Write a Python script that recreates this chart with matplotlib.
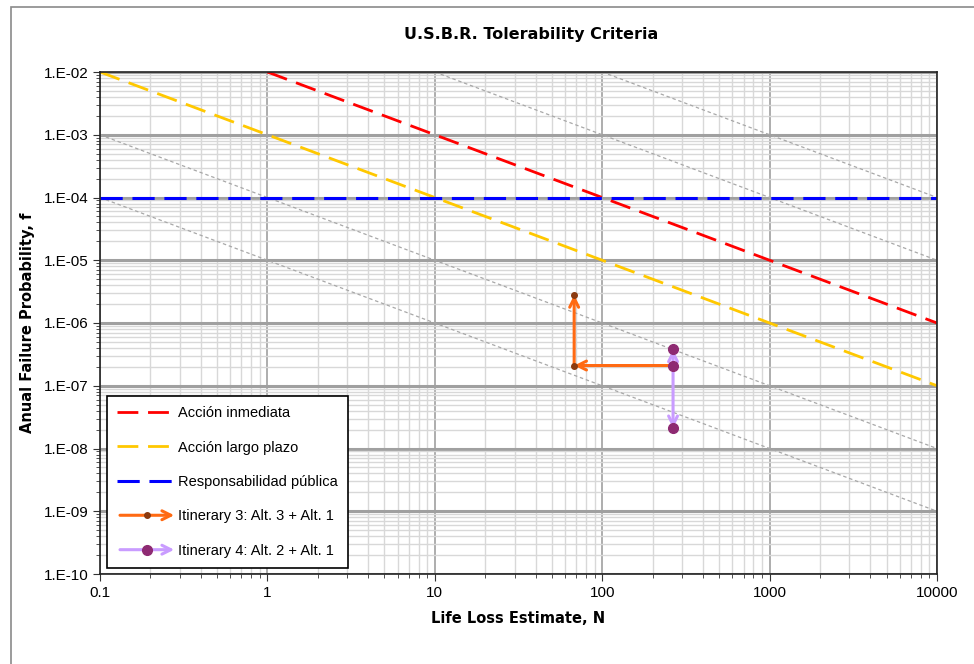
import numpy as np
import matplotlib
matplotlib.use('Agg')
import matplotlib.pyplot as plt
from matplotlib.lines import Line2D
from matplotlib.patches import FancyArrowPatch, Rectangle
from matplotlib.legend_handler import HandlerBase
from matplotlib.ticker import FuncFormatter, LogLocator, NullFormatter

plt.rcParams['font.family'] = ['Liberation Sans', 'DejaVu Sans']
plt.rcParams['lines.scale_dashes'] = False

# tolerability criteria lines (N, f)
red_N = [1, 10000]
red_f = [1e-2, 1e-6]
yellow_N = [0.1, 10000]
yellow_f = [1e-2, 1e-7]
blue_N = [0.1, 10000]
blue_f = [1e-4, 1e-4]

# iso-risk reference lines (N*f = const)
iso_N = [[10, 10000], [100, 10000], [0.1, 10000], [0.1, 10000]]
iso_f = [[1e-2, 1e-5], [1e-2, 1e-4], [1e-3, 1e-8], [1e-4, 1e-9]]

# itineraries
it3_N = [265, 68, 68]
it3_f = [2.1e-7, 2.1e-7, 2.8e-6]
it4_N = [265, 265, 265]
it4_f = [3.8e-7, 2.1e-7, 2.1e-8]

xticks = [0.1, 1, 10, 100, 1000, 10000]
xtick_labels = ['0.1', '1', '10', '100', '1000', '10000']

orange = '#FF6A13'
orange_mk = '#8B3A0F'
lilac = '#C99CFF'
purple_mk = '#8E2A72'

fig = plt.figure(figsize=(9.74, 6.64), dpi=100)
ax = fig.add_axes([100/974, 1-574/664, 837/974, 502/664])

ax.set_xscale('log')
ax.set_yscale('log')
ax.set_xlim(0.1, 10000)
ax.set_ylim(1e-10, 1e-2)

ax.xaxis.set_minor_locator(LogLocator(base=10, subs=np.arange(2, 10)))
ax.yaxis.set_minor_locator(LogLocator(base=10, subs=np.arange(2, 10)))
ax.xaxis.set_minor_formatter(NullFormatter())
ax.yaxis.set_minor_formatter(NullFormatter())
ax.set_xticks(xticks)
ax.set_xticklabels(xtick_labels)
ax.yaxis.set_major_locator(LogLocator(base=10, numticks=20))
ax.yaxis.set_major_formatter(FuncFormatter(lambda v, p: '1.E-%02d' % int(round(-np.log10(v)))))

ax.grid(True, which='minor', color='#D8D8D8', lw=1.0)
ax.grid(True, which='major', axis='x', color='#A0A0A0', lw=1.2)
ax.grid(True, which='major', axis='y', color='#A0A0A0', lw=2.2)
ax.set_axisbelow(True)
ax.tick_params(which='both', direction='out', labelsize=11, color='#333333')
ax.tick_params(which='major', length=5)
ax.tick_params(which='minor', length=3)
for s in ax.spines.values():
    s.set_color('#222222')
    s.set_linewidth(1.2)

for n, f in zip(iso_N, iso_f):
    ax.plot(n, f, color='#A8A8A8', lw=0.9, dashes=(2.5, 2))

ax.plot(red_N, red_f, color='#FF0000', lw=2.0, dashes=(15, 7), label='Acción inmediata')
ax.plot(yellow_N, yellow_f, color='#FFC800', lw=2.0, dashes=(15, 7), label='Acción largo plazo')
ax.plot(blue_N, blue_f, color='#0000FF', lw=2.2, dashes=(16, 7), label='Responsabilidad pública')

# itinerary 3 arrows
for i in range(len(it3_N) - 1):
    ax.annotate('', xy=(it3_N[i+1], it3_f[i+1]), xytext=(it3_N[i], it3_f[i]),
                arrowprops=dict(arrowstyle='->', color=orange, lw=2.2, mutation_scale=16,
                                shrinkA=0, shrinkB=0))
ax.plot(it3_N, it3_f, ls='none', marker='o', ms=4, color=orange_mk, zorder=5)

# itinerary 4 arrows (from middle point up and down)
for j in (0, 2):
    ax.annotate('', xy=(it4_N[j], it4_f[j]), xytext=(it4_N[1], it4_f[1]),
                arrowprops=dict(arrowstyle='->', color=lilac, lw=2.2, mutation_scale=16,
                                shrinkA=0, shrinkB=0))
ax.plot(it4_N, it4_f, ls='none', marker='o', ms=7, color=purple_mk, zorder=6)


class ArrowHandle:
    def __init__(self, color, mcolor, ms):
        self.color = color
        self.mcolor = mcolor
        self.ms = ms


class HandlerArrow(HandlerBase):
    def create_artists(self, legend, orig, xd, yd, width, height, fontsize, trans):
        y = yd + height / 2
        arr = FancyArrowPatch((xd, y), (xd + width, y), arrowstyle='->', color=orig.color,
                              lw=2.2, mutation_scale=16, transform=trans)
        mk = Line2D([xd + width * 0.5], [y], marker='o', ms=orig.ms, color=orig.mcolor,
                    ls='none', transform=trans)
        return [arr, mk]


h3 = ArrowHandle(orange, orange_mk, 4)
h4 = ArrowHandle(lilac, purple_mk, 7)
handles, labels = ax.get_legend_handles_labels()
handles += [h3, h4]
labels += ['Itinerary 3: Alt. 3 + Alt. 1', 'Itinerary 4: Alt. 2 + Alt. 1']
leg = ax.legend(handles, labels, handler_map={ArrowHandle: HandlerArrow()},
                loc='lower left', bbox_to_anchor=(107/974, 1-568/664), bbox_transform=fig.transFigure,
                fontsize=10.5, fancybox=False, framealpha=1, edgecolor='black',
                labelspacing=1.4, handlelength=4.1, handletextpad=0.1, borderpad=0.7,
                borderaxespad=0)
leg.get_frame().set_linewidth(1.2)

fig.text(531/974, 1-35/664, 'U.S.B.R. Tolerability Criteria', ha='center', va='center',
         fontsize=11.5, fontweight='bold', family='DejaVu Sans')
ax.set_xlabel('Life Loss Estimate, N', fontsize=10.5, fontweight='bold', family='DejaVu Sans', labelpad=8)
ax.set_ylabel('Anual Failure Probability, f', fontsize=10.5, fontweight='bold', family='DejaVu Sans', labelpad=6)

fig.patches.append(Rectangle((11/974, -0.1), 1.2, 1 - 7/664 + 0.1, fill=False,
                             edgecolor='#8A8A8A', lw=1.2, transform=fig.transFigure, figure=fig))

plt.savefig('out.png', dpi=100)
